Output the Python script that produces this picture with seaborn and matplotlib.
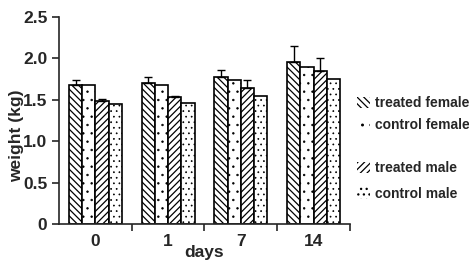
import numpy as np
import pandas as pd
import matplotlib
matplotlib.use("Agg")
import matplotlib.pyplot as plt
import seaborn as sns
from matplotlib.patches import Patch

days = ["0", "1", "7", "14"]
groups = ["treated female", "control female", "treated male", "control male"]
treated_female = [1.68, 1.70, 1.78, 1.96]
control_female = [1.68, 1.68, 1.74, 1.90]
treated_male = [1.48, 1.53, 1.64, 1.85]
control_male = [1.45, 1.46, 1.55, 1.75]
err_treated_female = [0.06, 0.08, 0.08, 0.19]
err_control_female = [0.0, 0.0, 0.0, 0.0]
err_treated_male = [0.03, 0.01, 0.10, 0.15]
err_control_male = [0.0, 0.0, 0.0, 0.0]

values = [treated_female, control_female, treated_male, control_male]
errors = [err_treated_female, err_control_female, err_treated_male, err_control_male]
hatches = ["\\\\\\\\\\", "..", "/////", "..."]
hatch_lw = [0.9, 0.5, 0.9, 0.5]

rows = []
for g, vals in zip(groups, values):
    for d, v in zip(days, vals):
        rows.append({"days": d, "group": g, "weight": v})
df = pd.DataFrame(rows)

sns.set_style("ticks")
plt.rcParams["font.family"] = ["Liberation Sans", "DejaVu Sans"]
plt.rcParams["font.weight"] = "bold"
plt.rcParams["hatch.linewidth"] = 0.9
plt.rcParams["hatch.color"] = "black"

fig = plt.figure(figsize=(4.69, 2.69), dpi=100)
ax = fig.add_axes([0.126, 0.167, 0.620, 0.770])

pal = {g: "white" for g in groups}
sns.barplot(data=df, x="days", y="weight", hue="group", order=days,
            hue_order=groups, palette=pal, width=0.73, gap=0,
            edgecolor="black", linewidth=1.2, errorbar=None, legend=False, ax=ax)

def style_patch(p, i):
    p.set_hatch(hatches[i])
    p.set_edgecolor("black")
    if hasattr(p, "set_hatch_linewidth"):
        p.set_hatch_linewidth(hatch_lw[i])

n = len(days)
for gi, g in enumerate(groups):
    for di in range(n):
        p = ax.patches[gi * n + di]
        style_patch(p, gi)
        e = errors[gi][di]
        if e > 0:
            xc = p.get_x() + p.get_width() / 2
            top = p.get_height()
            ax.errorbar([xc], [top], yerr=[[0], [e]], fmt="none", ecolor="black",
                        elinewidth=1.0, capsize=3, capthick=1.0)

ax.set_xlim(-0.5, 3.5)
ax.set_ylim(0, 2.5)
ax.set_yticks([0, 0.5, 1.0, 1.5, 2.0, 2.5])
ax.set_yticklabels(["0", "0.5", "1.0", "1.5", "2.0", "2.5"])
ax.set_xticks(range(n))
ax.set_xticklabels(days)
ax.set_xticks([0.5, 1.5, 2.5, 3.5], minor=True)
ax.tick_params(axis="x", which="major", length=0, pad=7, labelsize=12.5)
ax.tick_params(axis="x", which="minor", length=5, width=1.2)
ax.tick_params(axis="y", which="major", length=5, width=1.2, labelsize=12.5)
for lab in ax.get_xticklabels() + ax.get_yticklabels():
    lab.set_fontweight("bold")
ax.set_xlabel("days", fontsize=12.5, fontweight="bold")
ax.set_ylabel("weight (kg)", fontsize=12.5, fontweight="bold")
ax.xaxis.set_label_coords(0.5, -0.135)
ax.yaxis.set_label_coords(-0.145, 0.425)
ax.xaxis.label.set_va("center")
ax.yaxis.label.set_va("center")
sns.despine(ax=ax)
for s in ["left", "bottom"]:
    ax.spines[s].set_linewidth(1.2)

def mk(i):
    p = Patch(facecolor="white", edgecolor="black", linewidth=0, hatch=hatches[i], label=groups[i])
    if hasattr(p, "set_hatch_linewidth"):
        p.set_hatch_linewidth(hatch_lw[i])
    return p

h1 = [mk(i) for i in (0, 1)]
h2 = [mk(i) for i in (2, 3)]
leg1 = fig.legend(handles=h1, loc="center left", bbox_to_anchor=(0.735, 0.575), frameon=False,
                  prop={"size": 10, "weight": "bold"}, handlelength=0.9, handleheight=0.9,
                  handletextpad=0.4, labelspacing=0.6)
leg2 = fig.legend(handles=h2, loc="center left", bbox_to_anchor=(0.735, 0.327), frameon=False,
                  prop={"size": 10, "weight": "bold"}, handlelength=0.9, handleheight=0.9,
                  handletextpad=0.4, labelspacing=0.8)

fig.savefig("out.png", dpi=100)
